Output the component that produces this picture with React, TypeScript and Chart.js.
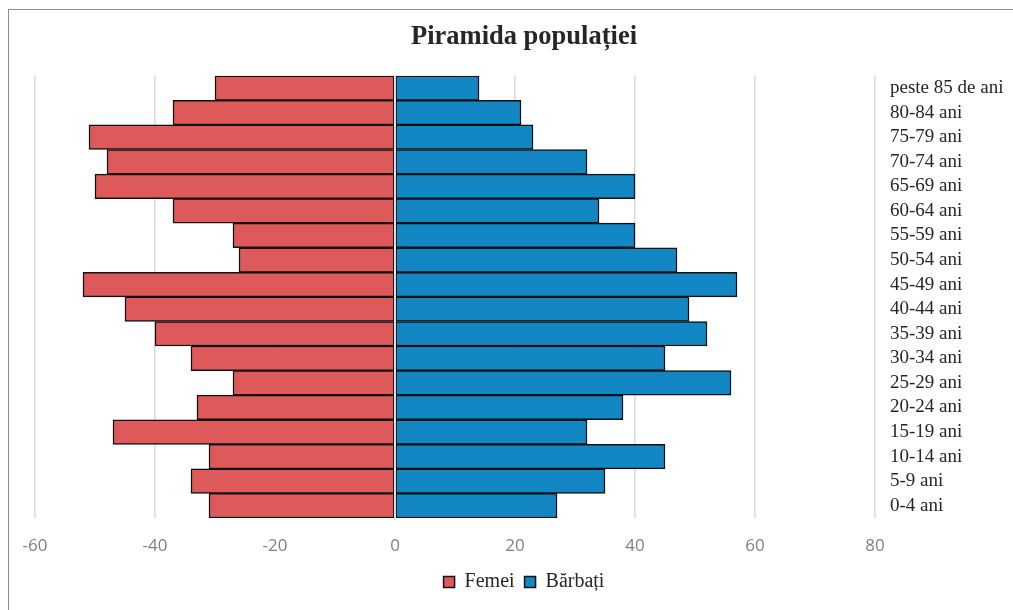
import React, { useEffect, useRef } from "react";
import { Chart, registerables } from "chart.js";

Chart.register(...registerables);

const categories = [
  "0-4 ani", "5-9 ani", "10-14 ani", "15-19 ani", "20-24 ani", "25-29 ani",
  "30-34 ani", "35-39 ani", "40-44 ani", "45-49 ani", "50-54 ani", "55-59 ani",
  "60-64 ani", "65-69 ani", "70-74 ani", "75-79 ani", "80-84 ani", "peste 85 de ani",
];
const femei = [-31, -34, -31, -47, -33, -27, -34, -40, -45, -52, -26, -27, -37, -50, -48, -51, -37, -30];
const barbati = [27, 35, 45, 32, 38, 56, 45, 52, 49, 57, 47, 40, 34, 40, 32, 23, 21, 14];
const xMin = -60;
const xMax = 80;
const xStep = 20;
const title = "Piramida populației";
const seriesNames = ["Femei", "Bărbați"];

const SERIF = "'Liberation Serif', 'Times New Roman', serif";
const SANS = "'Open Sans', 'Liberation Sans', sans-serif";

const zeroLine = {
  id: "zeroLine",
  afterDatasetsDraw(chart: any) {
    const { ctx, chartArea, scales } = chart;
    const x = scales.x.getPixelForValue(0);
    ctx.save();
    ctx.strokeStyle = "#dedede";
    ctx.lineWidth = 2;
    ctx.beginPath();
    ctx.moveTo(x, chartArea.top);
    ctx.lineTo(x, chartArea.bottom + 2);
    ctx.stroke();
    ctx.restore();
  },
};

export default function App() {
  const ref = useRef<HTMLCanvasElement | null>(null);

  useEffect(() => {
    if (!ref.current) return;
    const chart = new Chart(ref.current, {
      type: "bar",
      data: {
        labels: categories,
        datasets: [
          {
            label: seriesNames[0],
            data: femei,
            backgroundColor: "#DE5A5A",
            borderColor: "#111111",
            borderWidth: 1.5,
            borderSkipped: false,
            categoryPercentage: 1,
            barPercentage: 1,
          },
          {
            label: seriesNames[1],
            data: barbati,
            backgroundColor: "#1386C4",
            borderColor: "#111111",
            borderWidth: 1.5,
            borderSkipped: false,
            categoryPercentage: 1,
            barPercentage: 1,
          },
        ],
      },
      options: {
        indexAxis: "y",
        responsive: false,
        animation: false,
        maintainAspectRatio: false,
        layout: { padding: { left: 26, right: 0, top: 0, bottom: 8 } },
        scales: {
          x: {
            stacked: true,
            min: xMin,
            max: xMax,
            ticks: {
              stepSize: xStep,
              color: "#808080",
              font: { family: SANS, size: 17 },
              padding: 18,
            },
            grid: {
              color: "#d9d9d9",
              lineWidth: 1.5,
              drawTicks: false,
            },
            border: { display: false },
            afterFit: (s: any) => {
              s.height = 44;
              s.paddingLeft = 0;
              s.paddingRight = 0;
            },
          },
          y: {
            stacked: true,
            reverse: true,
            position: "right",
            grid: { display: false, drawTicks: false },
            border: { display: false },
            ticks: {
              color: "#262626",
              font: { family: SERIF, size: 19 },
              padding: 15,
              autoSkip: false,
            },
            afterFit: (s: any) => {
              s.width = 138;
            },
          },
        },
        plugins: {
          title: {
            display: true,
            text: title,
            color: "#262626",
            font: { family: SERIF, size: 26.5, weight: "bold" },
            padding: { top: 11, bottom: 23 },
          },
          legend: {
            position: "bottom",
            labels: {
              color: "#262626",
              font: { family: SERIF, size: 20 },
              boxWidth: 11,
              boxHeight: 11,
              padding: 10,
            },
          },
          tooltip: { enabled: false },
        },
      },
      plugins: [zeroLine],
    } as any);
    return () => chart.destroy();
  }, []);

  return (
    <div
      style={{
        position: "fixed",
        left: 8,
        top: 9,
        width: 1005,
        height: 601,
        borderTop: "1px solid #8c8c8c",
        borderLeft: "1px solid #8c8c8c",
        background: "#fff",
      }}
    >
      <canvas ref={ref} width={1004} height={600} style={{ display: "block", width: 1004, height: 600 }} />
    </div>
  );
}
